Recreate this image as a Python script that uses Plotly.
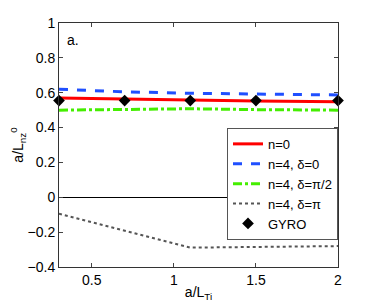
import plotly.graph_objects as go

x_vals = [0.3, 0.7, 1.1, 1.5, 2.0]
n0 = [0.570, 0.563, 0.557, 0.552, 0.548]
n4_d0 = [0.620, 0.605, 0.597, 0.591, 0.587]
n4_dpi2 = [0.500, 0.503, 0.508, 0.503, 0.500]
n4_dpi = [-0.095, -0.190, -0.289, -0.285, -0.280]
gyro = [0.555, 0.555, 0.555, 0.555, 0.555]

x_ticks = [0.5, 1, 1.5, 2]
y_ticks = [-0.4, -0.2, 0, 0.2, 0.4, 0.6, 0.8, 1]

fig = go.Figure()
fig.add_trace(go.Scatter(x=x_vals, y=n0, mode="lines", name="n=0",
                         line=dict(color="#ff0000", width=3)))
fig.add_trace(go.Scatter(x=x_vals, y=n4_d0, mode="lines", name="n=4, δ=0",
                         line=dict(color="#1f4fff", width=3, dash="dash")))
fig.add_trace(go.Scatter(x=x_vals, y=n4_dpi2, mode="lines", name="n=4, δ=π/2",
                         line=dict(color="#44ee00", width=3, dash="dashdot")))
fig.add_trace(go.Scatter(x=x_vals, y=n4_dpi, mode="lines", name="n=4, δ=π",
                         line=dict(color="#555555", width=2, dash="dot")))
fig.add_trace(go.Scatter(x=x_vals, y=gyro, mode="markers", name="GYRO",
                         marker=dict(symbol="diamond", color="black", size=9),
                         cliponaxis=False))

fig.update_layout(
    width=366, height=294,
    margin=dict(l=51, r=36, t=15, b=35),
    paper_bgcolor="white", plot_bgcolor="white",
    font=dict(family="Liberation Sans, Arial, sans-serif", size=13, color="black"),
    showlegend=True,
    legend=dict(x=1, xanchor="right", y=0.57, yanchor="top",
                bordercolor="#555555", borderwidth=1, bgcolor="white",
                font=dict(size=13), itemwidth=30, tracegroupgap=0),
    xaxis=dict(range=[0.3, 2.0], tickvals=x_ticks, ticktext=["0.5", "1", "1.5", "2"],
               ticks="inside", ticklen=4, showline=True, linecolor="#333333",
               mirror="ticks", showgrid=False, zeroline=False, automargin=False,
               tickfont=dict(size=14),
               title=dict(text="a/L<sub>Ti</sub>", standoff=0, font=dict(size=14))),
    yaxis=dict(range=[-0.4, 1.0], tickvals=y_ticks,
               ticktext=["\u22120.4", "\u22120.2", "0", "0.2", "0.4", "0.6", "0.8", "1"],
               ticks="inside", ticklen=4, showline=True, linecolor="#333333",
               mirror="ticks", showgrid=False, zeroline=True, zerolinecolor="black",
               zerolinewidth=1, automargin=False, tickfont=dict(size=14),
               title=dict(text="a/L<sub>nz</sub><sup>0</sup>", standoff=2, font=dict(size=14))),
    annotations=[dict(text="a.", x=0.02, y=0.97, xref="paper", yref="paper",
                      xanchor="left", yanchor="top", showarrow=False,
                      font=dict(size=14))],
)

fig.write_html("out.html")
